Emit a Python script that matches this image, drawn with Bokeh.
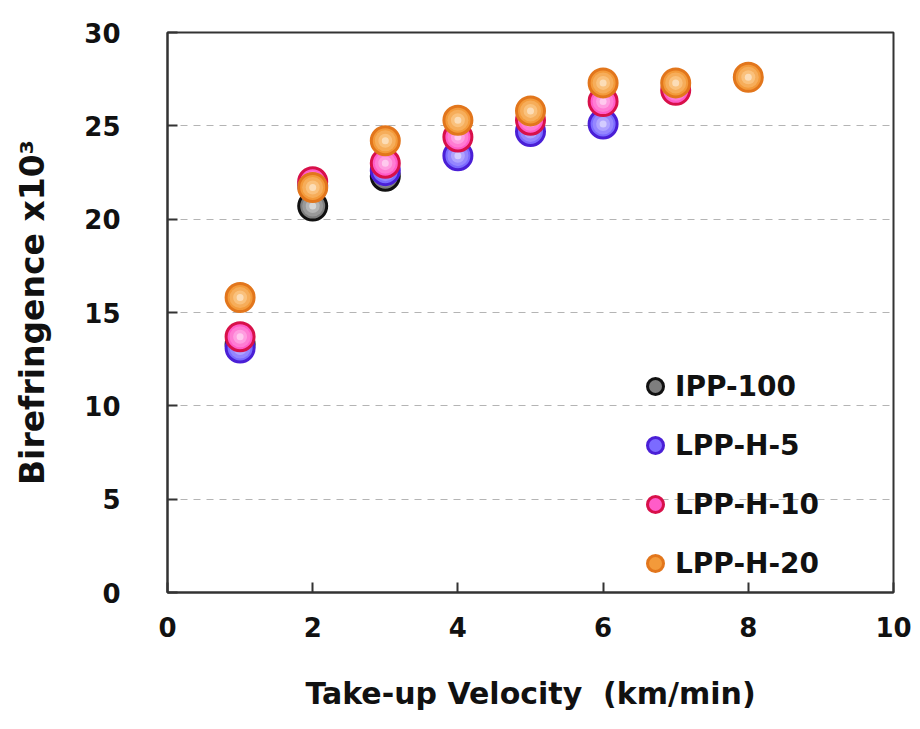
from bokeh.plotting import figure
from bokeh.models import Range1d, FixedTicker, Legend, LegendItem, ColumnDataSource
from bokeh.embed import file_html
from bokeh.resources import INLINE

# ---- data ----
velocity = [1, 2, 3, 4, 5, 6, 7, 8]
ipp_100 = [13.3, 20.7, 22.3]
lpp_h_5 = [13.1, 21.8, 22.6, 23.4, 24.7, 25.1]
lpp_h_10 = [13.7, 22.0, 23.0, 24.4, 25.3, 26.3, 26.9]
lpp_h_20 = [15.8, 21.7, 24.2, 25.3, 25.8, 27.3, 27.3, 27.6]

series_names = ["IPP-100", "LPP-H-5", "LPP-H-10", "LPP-H-20"]
series_values = [ipp_100, lpp_h_5, lpp_h_10, lpp_h_20]
x_ticks = [0, 2, 4, 6, 8, 10]
y_ticks = [0, 5, 10, 15, 20, 25, 30]

# ---- styles ----
edge_colors = ["#111111", "#4a1fd6", "#d8104a", "#e2761c"]
base_colors = ["#7e7e7e", "#7b6bff", "#ff5cc8", "#f39a3a"]
high_colors = ["#d6d6d6", "#cfc8ff", "#ffc6ef", "#ffd9a6"]

FONT = "DejaVu Sans"

p = figure(width=920, height=729, output_backend="svg", toolbar_location=None,
           x_range=Range1d(0, 10), y_range=Range1d(0, 30),
           min_border_left=167, min_border_right=27,
           min_border_top=32, min_border_bottom=137)

p.outline_line_color = "#333333"
p.outline_line_width = 2
p.background_fill_color = "white"
p.border_fill_color = "white"

p.xgrid.visible = False
p.ygrid.ticker = FixedTicker(ticks=y_ticks)
p.ygrid.grid_line_color = "#b4b4b4"
p.ygrid.grid_line_dash = "7 6"
p.ygrid.grid_line_width = 1.2

p.xaxis.ticker = FixedTicker(ticks=x_ticks)
p.yaxis.ticker = FixedTicker(ticks=y_ticks)
for ax in (p.xaxis[0], p.yaxis[0]):
    ax.axis_line_color = "#333333"
    ax.axis_line_width = 2
    ax.major_tick_line_color = "#333333"
    ax.major_tick_line_width = 2
    ax.major_tick_in = 10
    ax.major_tick_out = 0
    ax.minor_tick_line_color = None
    ax.major_label_text_font = FONT
    ax.major_label_text_font_style = "bold"
    ax.major_label_text_font_size = "26px"
    ax.major_label_text_color = "#111111"
    ax.axis_label_text_font = FONT
    ax.axis_label_text_font_style = "bold"
    ax.axis_label_text_color = "#111111"

p.xaxis.axis_label = "Take-up Velocity\u00a0 (km/min)"
p.xaxis.axis_label_text_font_size = "30px"
p.xaxis.major_label_standoff = 24
p.xaxis.axis_label_standoff = 36

p.yaxis.axis_label = "Birefringence x10³"
p.yaxis.axis_label_text_font_size = "33px"
p.yaxis.major_label_standoff = 47
p.yaxis.axis_label_standoff = 29

items = []
for name, vals, ec, bc, hc in zip(series_names, series_values, edge_colors, base_colors, high_colors):
    src = ColumnDataSource(dict(x=velocity[:len(vals)], y=vals))
    outer = p.scatter("x", "y", source=src, size=28, marker="circle",
                      fill_color=bc, line_color=ec, line_width=3)
    p.scatter("x", "y", source=src, size=21, marker="circle",
              fill_color=hc, fill_alpha=0.3, line_color=None)
    p.scatter("x", "y", source=src, size=14, marker="circle",
              fill_color=hc, fill_alpha=0.45, line_color=None)
    p.scatter("x", "y", source=src, size=7, marker="circle",
              fill_color="white", fill_alpha=0.45, line_color=None)
    items.append(LegendItem(label=name, renderers=[outer]))

legend = Legend(items=items, location=(468, 9),
                glyph_width=40, glyph_height=40, label_standoff=-4,
                spacing=19, padding=0, margin=0,
                border_line_alpha=0, background_fill_alpha=0,
                label_text_font=FONT, label_text_font_style="bold",
                label_text_font_size="28px", label_text_color="#111111")
p.add_layout(legend)

open("out.html", "w").write(file_html(p, INLINE))
